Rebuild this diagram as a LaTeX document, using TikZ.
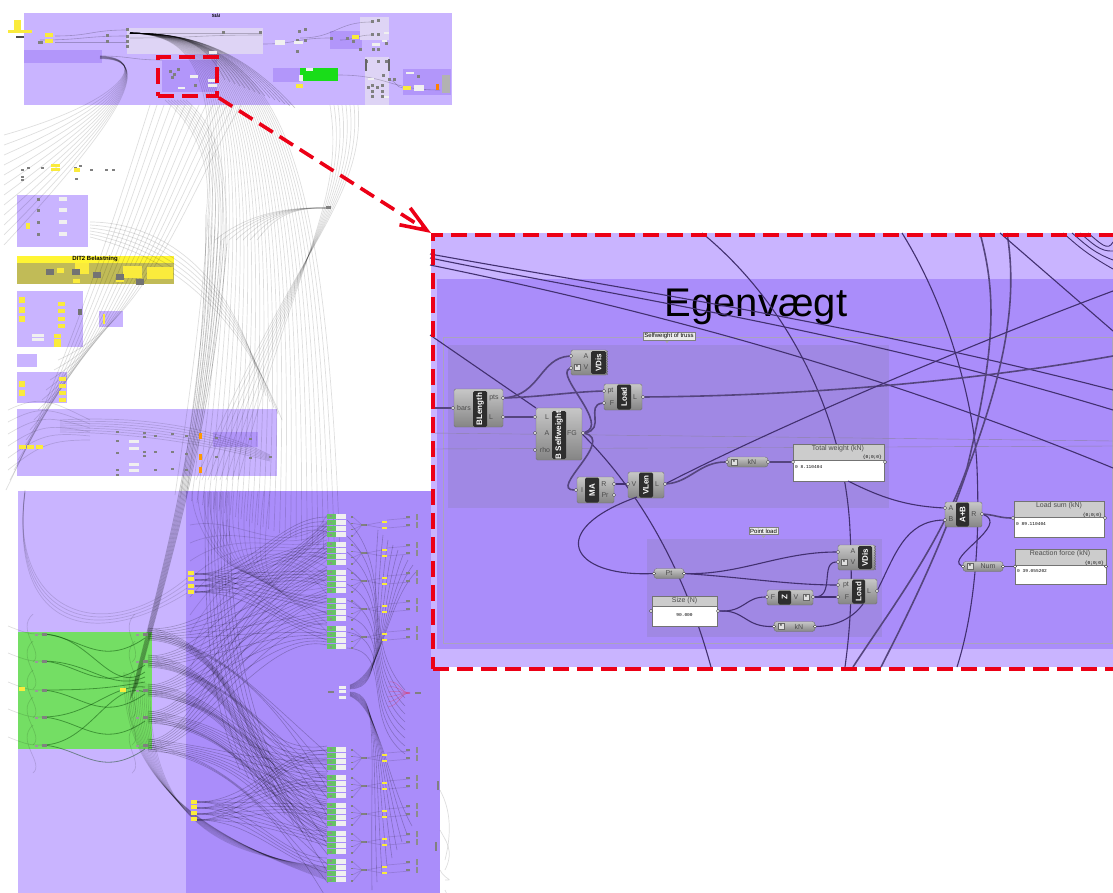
\documentclass[tikz,border=0pt]{standalone}
\usepackage{fontspec}
\setmainfont{Liberation Sans}
\setmonofont{Liberation Mono}
\usetikzlibrary{arrows.meta, decorations.pathmorphing}
\definecolor{clight}{RGB}{201,180,255}
\definecolor{cstrip}{RGB}{222,212,245}
\definecolor{cinner}{RGB}{170,141,250}
\definecolor{cgroup}{RGB}{160,136,228}
\definecolor{coverdark}{RGB}{178,150,250}
\definecolor{cwire}{RGB}{66,48,112}
\definecolor{cred}{RGB}{236,0,22}
\definecolor{cyell}{RGB}{250,235,60}
\definecolor{cgreen}{RGB}{116,222,100}

\begin{document}
\begin{tikzpicture}[x=1pt, y=-1pt, font=\fontsize{7}{8}\selectfont,
    comp/.style={draw=black!55, top color=black!22, bottom color=black!48, rounded corners=1.5pt, inner sep=0pt},
    pill/.style={comp, minimum height=10pt, rounded corners=3pt},
    bar/.style={fill=black!82, rounded corners=1.5pt, text=white, rotate=90, inner sep=0pt, font=\fontsize{8}{9}\bfseries\selectfont},
    port/.style={circle, draw=black!80, fill=white, inner sep=0pt, minimum size=3.2pt},
    plabel/.style={text=black!70, inner sep=0pt},
    staricon/.style={draw=black!60, fill=black!12, inner sep=0pt, minimum size=6pt, font=\fontsize{6}{6}\selectfont},
    panelhead/.style={draw=black!55, fill=black!20, inner sep=0pt},
    panelbody/.style={draw=black!55, fill=white, inner sep=0pt},
    panelmono/.style={inner sep=0pt, font=\fontsize{4.5}{5}\ttfamily\selectfont},
    note/.style={draw=black!50, fill=white!92!black, inner sep=1.2pt, font=\fontsize{6}{7}\selectfont},
    wire/.style={draw=cwire, line width=1.1pt},
    wirefat/.style={draw=cwire!90, line width=1.6pt},
    wirethin/.style={draw=cwire!60, line width=0.4pt},
    gwire/.style={draw=black, opacity=0.13, line width=0.7pt},
    dwire/.style={draw=black, opacity=0.22, line width=0.6pt},
    gstrand/.style={draw=green!25!black, opacity=0.45, line width=0.8pt},
    area/.style={inner sep=0pt, anchor=north west},
    tile/.style={fill=black!50, inner sep=0pt, minimum width=5pt, minimum height=3pt},
    ytile/.style={fill=cyell, inner sep=0pt},
    wtile/.style={fill=white!94!black, inner sep=0pt},
    reddash/.style={draw=cred, line width=3.6pt, dash pattern=on 16pt off 8pt}]

  \clip (0,0) rectangle (1113,893);

  % --- overview: groups ---
  \fill[clight] (24,13) rectangle (452,105);
  \fill[cstrip] (127,28) rectangle (263,54);
  \fill[coverdark] (24,50) rectangle (102,63);
  \fill[coverdark] (162,60) rectangle (217,92);
  \fill[coverdark] (273,68) rectangle (300,82);
  \fill[green!85!black!90!white] (300,68) rectangle (338,81);
  \fill[coverdark] (330,31) rectangle (362,49);
  \fill[cstrip] (360,17) rectangle (389,40);
  \fill[cstrip] (365,57) rectangle (389,105);
  \fill[coverdark] (403,69) rectangle (451,95);
  \fill[clight] (17,195) rectangle (88,247);
  \fill[yellow!80!white] (17,256) rectangle (174,263);
  \fill[olive!55!white] (17,263) rectangle (174,284);
  \fill[clight] (17,291) rectangle (83,347);
  \fill[clight] (99,311) rectangle (123,327);
  \fill[clight] (17,354) rectangle (37,367);
  \fill[clight] (17,372) rectangle (67,403);
  \fill[clight] (17,409) rectangle (277,476);
  \fill[coverdark] (213,432) rectangle (258,447);
  \fill[clight] (18,491) rectangle (186,893);
  \fill[cinner] (186,491) rectangle (440,893);
  \fill[cgreen] (18,632) rectangle (152,749);

  \node[font=\fontsize{4.5}{5}\bfseries\selectfont] (ovtitle) at (216,16) {Stål};
  \node[font=\fontsize{6}{7}\bfseries\selectfont] (dlttitle) at (95,259) {DIT2 Belastning};

  % --- overview: wires ---
  \foreach \i in {0,...,30}
    \draw[gwire] (130,33) .. controls ({215+2*\i},36) and ({235+3*\i},{95+\i}) .. ({175+5.5*\i},{495+2*\i});
  \foreach \i in {0,...,14}
    \draw[dwire] (130,33) .. controls (180,34) and ({205+2*\i},40) .. ({225+5*\i},{80+2*\i});
  \foreach \i in {0,...,11}
    \draw[gwire] (100,{56+\i/4}) .. controls (150,58) and ({128+\i},100) .. ({4},{135+10*\i});
  \foreach \i in {0,...,13}
    \draw[gwire] ({6+4*\i},{490-10*\i}) .. controls ({70+6*\i},{360-3*\i}) and ({120+5*\i},200) .. ({150+7*\i},{105});
  \foreach \i in {0,...,7}
    \draw[dwire, line width=0.8pt] ({130+\i},{700-2*\i}) .. controls ({172+\i},530) and ({205+\i},420) .. ({206+3*\i},{215+4*\i});
  \foreach \i in {0,...,7}
    \draw[gwire] ({206+3*\i},{215+4*\i}) .. controls ({212+2*\i},170) and ({200+3*\i},130) .. ({165+3*\i},100);
  \foreach \i in {0,...,6}
    \draw[gwire] ({215+7*\i},240) .. controls ({250+4*\i},{212+\i}) and (290,207) .. (328,208);
  \foreach \i in {0,...,7}
    \draw[gwire] ({330+4*\i},105) .. controls ({345+3*\i},200) and ({300-\i},250) .. ({238-6*\i},{480});
  \foreach \i in {0,...,5}
    \draw[gwire] (90,{222+3*\i}) .. controls (150,{222+6*\i}) and (230,{260+6*\i}) .. ({262+4*\i},{390+6*\i});
  \foreach \i in {0,...,3}
    \draw[gwire] (25,{490+\i}) .. controls (8,{610+9*\i}) and (100,{650-\i}) .. (187,{578+5*\i});
  \foreach \i in {0,...,6}
    \draw[gwire] (60,{420+2*\i}) .. controls (150,{415+3*\i}) and (220,{430+3*\i}) .. (270,{455+\i});
  \foreach \i in {0,...,5}
    \draw[gwire] (8,{410+12*\i}) .. controls (40,{395+10*\i}) and (50,{400+8*\i}) .. (90,{420+4*\i});
  % top group
  \foreach \x/\y/\u/\v in {40/40/127/36, 55/36/127/30, 55/42/127/42, 130/33/262/33, 130/38/262/35, 263/44/330/38, 300/38/372/22, 340/40/372/35, 389/80/403/88, 338/75/440/90, 100/56/162/60}
    \draw[dwire] (\x,\y) .. controls ({(\x+\u)/2},\y) and ({(\x+\u)/2},\v) .. (\u,\v);
  % green rows to the blocks
  \foreach \y [count=\r] in {634,661,690,717,745} {
    \draw[gstrand] (42,\y) .. controls (90,\y) and (110,{700-\r*4}) .. (145,{667+5*\r});
    \draw[gstrand] (42,\y) .. controls (80,{\y+2}) and (100,{\y+35}) .. (145,{\y+4});
    \draw[gwire] (8,{\y-8}) .. controls (28,\y) and (30,\y) .. (42,\y);
    \draw[gwire] (33,{\y-20}) .. controls (15,{\y-4}) and (45,{\y+18}) .. (33,{\y+28});
    \draw[gwire] (135,{\y-20}) .. controls (118,{\y-4}) and (145,{\y+18}) .. (132,{\y+28});
    \foreach \j in {0,...,6}
      \draw[dwire] (148,{\y-6+2*\j}) .. controls ({235+3*\j},{\y+5+\j}) and ({240+2*\j},{760+8*\j}) .. (327,{742+14*\j+\r*4});
    \foreach \j in {0,...,5}
      \draw[dwire] (148,{\y-5+2*\j}) .. controls (200,{\y-5+2*\j}) and ({230+7*\j},{600+\j*6}) .. (327,{520+\j*22+\r*3});
    \foreach \j in {0,...,2}
      \draw[dwire] (148,{\y+2*\j}) .. controls (215,{\y+10+2*\j}) and ({250+\j*8},{\y+50}) .. (328,{\y+120+\j*18});
  }
  % yellow clusters to the blocks
  \foreach \i in {0,...,3}
    \foreach \j in {0,...,4} {
      \draw[dwire] (195,{574+6*\i}) .. controls (250,{574+6*\i}) and (280,{517+27*\j}) .. (327,{517+27*\j+\i*5});
      \draw[dwire] (197,{802+6*\i}) .. controls (250,{802+6*\i}) and (280,{750+27*\j}) .. (327,{750+27*\j+\i*5});
    }
  \foreach \i in {0,...,13} {
    \draw[gwire] ({124+\i*2},{672+\i}) .. controls ({122+2*\i},{770+5*\i}) and ({185+4*\i},{830+2*\i}) .. (327,{880-\i});
    \draw[gwire] ({192+6*\i},491) .. controls ({190+5*\i},{530+6*\i}) and ({250+2*\i},{640-5*\i}) .. (327,{515+9*\i});
  }
  \foreach \i in {0,...,8} {
    \draw[dwire] ({205+\i*3},492) .. controls ({205+3*\i},600) and ({205+4*\i},{690+3*\i}) .. ({240+9*\i},{770+9*\i});
    \draw[gwire] (190,{525+18*\i}) .. controls (240,{515+6*\i}) and (280,{560-3*\i}) .. (327,{522+9*\i});
    \draw[dwire] (347,{520+16*\i}) .. controls (395,{570+10*\i}) and (360,{640+10*\i}) .. (405,{690+8*\i});
    \draw[dwire] (350,{692+\i/2}) .. controls (380,{693+2*\i}) and ({370+2*\i},{740+5*\i}) .. ({372+5*\i},{890-8*\i});
    \draw[dwire] (350,{689-\i/2}) .. controls (385,{688-2*\i}) and ({370+2*\i},{640-5*\i}) .. ({378+5*\i},{530+5*\i});
  }
  \foreach \i in {0,...,5}
    \draw[draw=red, opacity=0.3, line width=0.4pt] (410,693) .. controls (400,693) and (400,{680+5*\i}) .. (388,{682+5*\i});
  \foreach \i in {0,...,3}
    \draw[gwire] (440,{790+40*\i}) .. controls (445,{800+40*\i}) and (455,{820+30*\i}) .. (445,{860+10*\i});

  % --- overview: small parts top ---
  \node[ytile, minimum width=7pt, minimum height=8pt] (ya) at (17,24) {};
  \node[ytile, minimum width=7pt, minimum height=4pt] (yb) at (17,30) {};
  \node[ytile, minimum width=24pt, minimum height=3pt] (yc) at (20,32) {};
  \foreach \y in {35,41}
    \node[ytile, minimum width=8pt, minimum height=4pt] at (49,\y) {};
  \node[fill=black!70, minimum width=8pt, minimum height=2.5pt, inner sep=0pt] (ysw) at (20,37) {};
  \node[tile] (tila) at (40,43) {};
  \foreach \x/\y in {107/36,107/42,127/30,127/37,127/42,127/47,223/33,260/33,279/43,299/32,305/30,297/41,305/41,297/52,331/39,347/39,353/42,372/22,378/21,372/35,378/35,373/50,378/50,366/62,378/62,386/62,389/80,368/88,377/88,394/80,372/86,382/86,372/92,382/92,372/97,382/97,383/76,418/77,386/44,360/50,170/72,174/75,178/70,195/86,172/78}
    \node[tile, minimum width=3pt] at (\x,\y) {};
  \foreach \x/\y/\w/\h in {213/53/8/3,194/77/8/3,181/88/7/2,212/81/9/3,212/86/9/3,280/43/10/5,309/70/7/3,301/78/4/6,376/45/8/3,371/79/6/2,386/97/5/2,410/73/8/2,419/88/10/6,298/43/9/3,386/33/5/2,384/41/5/2}
    \node[wtile, minimum width=\w pt, minimum height=\h pt] at (\x,\y) {};
  \foreach \x/\y/\w/\h in {355/37/7/4,299/86/7/4,407/88/8/4}
    \node[ytile, minimum width=\w pt, minimum height=\h pt] at (\x,\y) {};
  \node[fill=black!30, minimum width=8pt, minimum height=18pt, inner sep=0pt] (grayp) at (446,84) {};
  \node[fill=orange, minimum width=3pt, minimum height=6pt, inner sep=0pt] (orgp) at (437,87) {};
  \node[fill=black!60, minimum width=2pt, minimum height=12pt, inner sep=0pt] (stripa) at (366,65) {};
  \node[fill=black!60, minimum width=2pt, minimum height=12pt, inner sep=0pt] (stripb) at (389,65) {};
  \foreach \x/\y in {28/168,42/168,55/169,75/168,76/179,80/166,91/170,106/170,113/170,22/170,22/177,22/180}
    \node[tile, minimum width=3pt, minimum height=2pt] at (\x,\y) {};
  \node[ytile, minimum width=9pt, minimum height=3pt] (ysa) at (55,166) {};
  \node[ytile, minimum width=9pt, minimum height=3pt] (ysb) at (55,170) {};
  \node[ytile, minimum width=6pt, minimum height=4pt] (ysc) at (77,170) {};
  \node[tile] (tilb) at (328,208) {};

  % --- overview: small groups left ---
  \foreach \y in {199,210,222,234} {
    \node[tile, minimum width=3pt] at (38,{\y+1}) {};
    \node[wtile, minimum width=8pt, minimum height=4pt] at (63,\y) {};
  }
  \node[ytile, minimum width=4pt, minimum height=6pt] (yleft) at (28,226) {};
  \foreach \x/\y/\w/\h in {50/272/6/6,60/271/7/5,76/281/7/4,82/269/14/11,97/275/6/6,120/280/8/4,132/272/19/12,160/273/26/11}
    \node[fill=cyell, minimum width=\w pt, minimum height=\h pt, inner sep=0pt] at (\x,\y) {};
  \foreach \x/\y in {50/272,76/272,97/275,120/277,140/282}
    \node[fill=black!55, minimum width=8pt, minimum height=6pt, inner sep=0pt] at (\x,\y) {};
  \foreach \y in {300,310,319}
    \node[ytile, minimum width=6pt, minimum height=6pt] at (22,\y) {};
  \foreach \y in {304,311,319,326,336,341,345} {
    \node[ytile, minimum width=7pt, minimum height=4pt] at ({\y>330 ? 57 : 61},\y) {};
  }
  \node[wtile, minimum width=12pt, minimum height=3pt] (wa) at (38,335) {};
  \node[wtile, minimum width=12pt, minimum height=3pt] (wb) at (38,339) {};
  \node[fill=black!55, minimum width=4pt, minimum height=6pt, inner sep=0pt] (ga) at (80,312) {};
  \node[ytile, minimum width=2pt, minimum height=10pt] (yg) at (104,319) {};
  \foreach \y in {384,393}
    \node[ytile, minimum width=6pt, minimum height=6pt] at (22,\y) {};
  \foreach \y in {379,386,393,400}
    \node[ytile, minimum width=7pt, minimum height=4pt] at (62,\y) {};
  \foreach \x in {22,30,39}
    \node[ytile, minimum width=7pt, minimum height=4pt] at (\x,447) {};
  \foreach \y in {441,448,464,470} {
    \node[wtile, minimum width=10pt, minimum height=3pt] at (134,\y) {};
  }
  \foreach \x/\y in {144/433,144/437,144/452,144/456,172/434,172/452,172/469,117/432,117/441,117/453,117/470,117/475,155/436,155/452,155/470,186/436,186/454,186/470,216/438,216/457,250/439,250/458,270/457}
    \node[tile, minimum width=3pt, minimum height=2.5pt] at (\x,\y) {};
  \foreach \y in {436,457,470}
    \node[fill=orange!80!yellow, minimum width=3pt, minimum height=6pt, inner sep=0pt] at (200,\y) {};

  % --- overview: blocks bottom ---
  \foreach \y in {513,541,569,597,625,746,774,802,830,858}
    \foreach \j in {0,1,2,3} {
      \node[fill=green!60!black!60!white, minimum width=9pt, minimum height=5pt, inner sep=0pt] at (331,{\y+3+\j*6.3}) {};
      \node[wtile, minimum width=10pt, minimum height=5pt] at (341,{\y+3+\j*6.3}) {};
      \node[fill=black!45, minimum width=1.5pt, minimum height=1.5pt, inner sep=0pt] at (331,{\y+3+\j*6.3}) {};
      \node[fill=black!50, minimum width=2pt, minimum height=1.5pt, inner sep=0pt] at (352,{\y+4+\j*6.3}) {};
      \draw[gwire] (353,{\y+4+\j*6.3}) -- (362,{\y+12});
    }
  \foreach \y in {513,541,569,597,625,746,774,802,830,858} {
    \node[tile, minimum width=6pt, minimum height=2pt] at (364,{\y+12}) {};
    \node[ytile, minimum width=5pt, minimum height=2pt] at (384,{\y+9}) {};
    \node[ytile, minimum width=5pt, minimum height=2pt] at (384,{\y+15}) {};
    \draw[gwire] (366,{\y+12}) -- (382,{\y+9}) (366,{\y+12}) -- (382,{\y+15});
    \foreach \s in {9,17} {
      \draw[gwire] (387,{\y+\s-2}) -- (410,{\y+\s-4});
      \node[tile, minimum width=4pt, minimum height=1.5pt] at (408,{\y+\s-5}) {};
      \node[fill=black!45, minimum width=2pt, minimum height=6pt, inner sep=0pt] at (417,{\y+\s-5}) {};
    }
  }
  \foreach \y in {573,579,586,592}
    \node[ytile, minimum width=6pt, minimum height=4pt] at (191,\y) {};
  \foreach \y in {802,807,813,819}
    \node[ytile, minimum width=6pt, minimum height=4pt] at (194,\y) {};
  \foreach \y in {634,661,690,717,745} {
    \node[tile, minimum width=5pt, minimum height=3pt] at (44,\y) {};
    \node[tile, minimum width=5pt, minimum height=3pt] at (145,\y) {};
    \node[fill=black!40, minimum width=3pt, minimum height=1.5pt, inner sep=0pt] at (36,{\y+1}) {};
    \node[fill=black!40, minimum width=3pt, minimum height=1.5pt, inner sep=0pt] at (137,{\y+1}) {};
  }
  \node[ytile, minimum width=6pt, minimum height=4pt] (ygreena) at (22,689) {};
  \node[ytile, minimum width=6pt, minimum height=4pt] (ygreenb) at (123,690) {};
  \foreach \y in {687,691,697}
    \node[wtile, minimum width=7pt, minimum height=3pt] at (342,\y) {};
  \node[tile, minimum width=6pt, minimum height=2pt] (tilc) at (331,692) {};
  \node[tile, minimum width=6pt, minimum height=2pt] (tild) at (418,693) {};
  \node[fill=black!50, minimum width=2pt, minimum height=9pt, inner sep=0pt] (stripc) at (438,785) {};
  \node[fill=black!50, minimum width=2pt, minimum height=9pt, inner sep=0pt] (stripd) at (436,846) {};

  % --- zoomed panel ---
  \fill[clight] (431,233) rectangle (1113,667);
  \fill[cinner] (437,279) rectangle (1113,649);
  \draw[draw=cwire!45, line width=0.4pt] (443,337) rectangle (1112,643);
  \node[area, fill=cgroup, minimum width=441pt, minimum height=163pt] (gself) at (448,345) {};
  \node[area, fill=cgroup, minimum width=235pt, minimum height=98pt] (gpoint) at (647,539) {};
  \node[font=\fontsize{40}{42}\selectfont, text=black] (egen) at (756,307) {Egenvægt};
  \fill[black!35] (665,340.6) -- (669,340.6) -- (667,343.4) -- cycle;
  \fill[black!35] (761.5,535.6) -- (765.5,535.6) -- (763.5,538) -- cycle;

  % --- wires behind the parts ---
  \coordinate (lonea) at (430,254);
  \coordinate (loneb) at (1113,390);
  \coordinate (ltwoa) at (430,258);
  \coordinate (ltwob) at (1113,410);
  \coordinate (lthra) at (430,265);
  \coordinate (lthrb) at (1113,468);
  \coordinate (larca) at (702,233);
  \coordinate (larcb) at (845,667);
  \coordinate (lbara) at (430,335);
  \coordinate (lbarb) at (711,667);
  \coordinate (lina) at (431,408);
  \coordinate (lreac) at (1113,291);
  \coordinate (lload) at (1113,356);
  \coordinate (lmida) at (431,433);
  \coordinate (lmidb) at (1113,441);
  \coordinate (lmidc) at (431,449);
  \coordinate (lmidd) at (1113,446);
  \coordinate (ltopa) at (902,233);
  \coordinate (ltopb) at (957,667);
  \coordinate (ltopc) at (980,233);
  \coordinate (ltopd) at (853,667);
  \coordinate (ltope) at (1007,233);
  \coordinate (ltopf) at (881,667);
  \coordinate (ltopg) at (1000,233);
  \coordinate (ltoph) at (1113,331);
  \draw[wirethin] (lmida) -- (lmidb);
  \draw[wirethin] (lmidc) -- (lmidd);
  \draw[wire] (lonea) .. controls (600,285) and (850,322) .. (loneb);
  \draw[wire] (ltwoa) .. controls (620,297) and (850,330) .. (ltwob);
  \draw[wire] (lthra) .. controls (650,310) and (880,372) .. (lthrb);
  \draw[wire] (larca) .. controls (790,305) and (845,420) .. (850,530) .. controls (853,590) and (850,630) .. (larcb);
  \draw[wire] (lbara) -- (536,408);
  \draw[wire] (580,432) .. controls (650,500) and (690,590) .. (lbarb);
  \draw[wire] (ltopa) .. controls (950,310) and (975,410) .. (977,468) .. controls (980,540) and (975,610) .. (ltopb);
  \draw[wirefat] (ltopc) .. controls (995,290) and (998,340) .. (967,468) .. controls (940,545) and (890,610) .. (ltopd);
  \draw[wirefat] (ltope) .. controls (1018,300) and (1005,370) .. (968,468) .. controls (940,550) and (910,610) .. (ltopf);
  \draw[wire] (ltopg) -- (ltoph);
  \foreach \s [count=\k] in {1063,1072,1080,1088}
    \draw[wire, line width=0.9pt] (\s,233) .. controls ({\s+12},243) and ({\s+20},252) .. (1113,{278-\k*9});

  % --- parts ---
  \node[note] (nself) at (669,336) {Selfweight of truss};
  \node[note] (npoint) at (763.5,531) {Point load};
  \node[comp, minimum width=49pt, minimum height=38pt] (blen) at (478.5,408) {};
  \node[bar, minimum width=36pt, minimum height=14pt] (blenbar) at (480,409) {BLength};
  \node[comp, minimum width=36pt, minimum height=25pt] (vdis) at (589,362.5) {};
  \node[bar, minimum width=23pt, minimum height=15pt] (vdisbar) at (598.5,362.5) {VDis};
  \node[comp, minimum width=38pt, minimum height=26pt] (loada) at (623,397) {};
  \node[bar, minimum width=25pt, minimum height=14pt] (loadabar) at (624,397) {Load};
  \node[comp, minimum width=46pt, minimum height=52pt] (bself) at (559,434) {};
  \node[bar, minimum width=48pt, minimum height=14pt] (bselfbar) at (559,435) {B Selfweight};
  \node[comp, minimum width=37pt, minimum height=26pt] (ma) at (595.5,490) {};
  \node[bar, minimum width=25pt, minimum height=14pt] (mabar) at (592,490) {MA};
  \node[comp, minimum width=36pt, minimum height=26pt] (vlen) at (646,485) {};
  \node[bar, minimum width=25pt, minimum height=14pt] (vlenbar) at (646,485) {VLen};
  \node[comp, minimum width=37pt, minimum height=25pt] (aplusb) at (963.5,514.5) {};
  \node[bar, minimum width=24pt, minimum height=13pt] (aplusbbar) at (962.5,514.5) {A+B};
  \node[comp, minimum width=37pt, minimum height=25pt] (vdisb) at (856.5,557.5) {};
  \node[bar, minimum width=23pt, minimum height=14pt] (vdisbbar) at (865,557.5) {VDis};
  \node[comp, minimum width=39pt, minimum height=25pt] (loadb) at (857.5,591.5) {};
  \node[bar, minimum width=24pt, minimum height=13pt] (loadbbar) at (858.5,591.5) {Load};
  \node[comp, minimum width=46pt, minimum height=15pt] (zvec) at (790,597.5) {};
  \node[bar, minimum width=14pt, minimum height=13pt] (zvecbar) at (784.5,597.5) {Z};
  \node[pill, minimum width=41pt] (kna) at (747.5,462) {};
  \node[pill, minimum width=41pt] (knb) at (794.5,626.5) {};
  \node[pill, minimum width=30pt] (ptp) at (669,573.5) {};
  \node[pill, minimum width=40pt] (num) at (983,566.5) {};
  \draw[decorate, decoration={zigzag, segment length=2.5pt, amplitude=0.8pt}, draw=black!60] (607,351) -- (607,375);
  \draw[decorate, decoration={zigzag, segment length=2.5pt, amplitude=0.8pt}, draw=black!60] (875,546) -- (875,570);

  \node[plabel] (lbars) at (464,408) {bars};
  \node[plabel] (lpts) at (494,398) {pts};
  \node[plabel] (ll) at (491,417) {L};
  \node[plabel] (lva) at (586,356) {A};
  \node[plabel] (lvv) at (586,367) {V};
  \node[staricon] (sva) at (577,367) {*};
  \node[plabel] (lpt) at (610.5,391) {pt};
  \node[plabel] (lf) at (612,403) {F};
  \node[plabel] (lll) at (635,397) {L};
  \node[plabel] (lsl) at (547,417) {L};
  \node[plabel] (lsa) at (547,433) {A};
  \node[plabel] (lsr) at (545,450) {rho};
  \node[plabel] (lsf) at (572,433) {FG};
  \node[plabel] (lmi) at (582,490) {I};
  \node[plabel] (lmr) at (604,484) {R};
  \node[plabel] (lmp) at (605,495) {Pr};
  \node[plabel] (lvl) at (634,484) {V};
  \node[plabel] (lvr) at (657,484) {L};
  \node[plabel] (laa) at (951,508) {A};
  \node[plabel] (lab) at (951,519) {B};
  \node[plabel] (lar) at (974,514) {R};
  \node[plabel] (lva2) at (853,551) {A};
  \node[plabel] (lvv2) at (853,562) {V};
  \node[staricon] (svb) at (844,562) {*};
  \node[plabel] (lpt2) at (846,585) {pt};
  \node[plabel] (lf2) at (847,597) {F};
  \node[plabel] (ll2) at (869,591) {L};
  \node[plabel] (lzf) at (773,597) {F};
  \node[plabel] (lzv) at (796,597) {V};
  \node[staricon] (szi) at (806,597) {*};
  \node[staricon] (skna) at (734,462) {*};
  \node[plabel] (tkna) at (752,462) {kN};
  \node[staricon] (sknb) at (781,626.5) {*};
  \node[plabel] (tknb) at (799,626.5) {kN};
  \node[plabel] (tpt) at (669,573.5) {Pt};
  \node[staricon] (snum) at (970,566.5) {*};
  \node[plabel] (tnum) at (988,566.5) {Num};

  % --- panels ---
  \node[area, panelhead, minimum width=91pt, minimum height=16pt] (twh) at (793,444) {};
  \node[area, panelbody, minimum width=91pt, minimum height=21pt] (twb) at (793,460) {};
  \node[plabel] (twt) at (838,448.5) {Total weight (kN)};
  \node[panelmono, anchor=east] (twi) at (882,457) {\{0;0;0\}};
  \node[panelmono, anchor=west] (twv) at (795,467) {0 8.110404};
  \node[area, panelhead, minimum width=90pt, minimum height=16pt] (lsh) at (1014,501) {};
  \node[area, panelbody, minimum width=90pt, minimum height=20pt] (lsb) at (1014,517) {};
  \node[plabel] (lst) at (1059,505.5) {Load sum (kN)};
  \node[panelmono, anchor=east] (lsi) at (1102,515) {\{0;0;0\}};
  \node[panelmono, anchor=west] (lsv) at (1016,524) {0 89.110404};
  \node[area, panelhead, minimum width=91pt, minimum height=16pt] (rfh) at (1015,549) {};
  \node[area, panelbody, minimum width=91pt, minimum height=19pt] (rfb) at (1015,565) {};
  \node[plabel] (rft) at (1060,553.5) {Reaction force (kN)};
  \node[panelmono, anchor=east] (rfi) at (1104,563) {\{0;0;0\}};
  \node[panelmono, anchor=west] (rfv) at (1017,571.5) {0 39.055202};
  \node[area, panelhead, minimum width=65pt, minimum height=10pt] (szh) at (652,596) {};
  \node[area, panelbody, minimum width=65pt, minimum height=20pt] (szb) at (652,606) {};
  \node[plabel] (szt) at (684.5,600.5) {Size (N)};
  \node[panelmono] (szv) at (684.5,615.5) {90.000};

  % --- ports ---
  \foreach \n/\x/\y in {pbars/453/408, ppts/503/398, pl/503/417, pva/571/356, pvv/571/368, pla/604/391, plf/604/403, pll/643/397, psl/535/417, psa/535/433, psr/535/450, psf/583/433, pmi/576/490, pmr/614/484, pmp/614/495, pvi/628/484, pvo/665/484, pki/727/462, pko/768/462, pti/793/462, pto/885/462, paa/945/508, pab/945/520, pao/982/514, plsi/1013/518, plso/1105/518, pni/963/566.5, pno/1003/566.5, prfi/1015/566.5, prfo/1106/566.5, ppi/654/573.5, ppo/684/573.5, psi/651/611, pso/718/611, pzi/767/597, pzo/813/597, pkbi/774/626.5, pkbo/815/626.5, pvba/838/552, pvbv/838/562, plbp/838/585, plbf/838/597, plbo/877/591}
    \node[port] (\n) at (\x,\y) {};

  % --- wires ---
  \draw[wirefat] (lina) -- (pbars);
  \draw[wirefat] (ppts) .. controls (540,395) and (540,358) .. (pva);
  \draw[wirefat] (ppts) .. controls (540,397) and (570,392) .. (pla);
  \draw[wirefat] (pl) -- (psl);
  \draw[wirefat] (psf) .. controls (606,430) and (585,405) .. (plf);
  \draw[wirefat] (psf) .. controls (610,425) and (555,375) .. (pvv);
  \draw[wirefat] (psf) .. controls (615,440) and (548,490) .. (pmi);
  \draw[wirefat] (pll) .. controls (780,396) and (950,385) .. (lload);
  \draw[wire] (pmr) -- (pvi);
  \draw[wirefat] (pvo) .. controls (690,482) and (700,462) .. (pki);
  \draw[wire] (pvo) .. controls (760,435) and (950,352) .. (lreac);
  \draw[wirefat] (pko) -- (pti);
  \draw[wire] (848,481) .. controls (880,497) and (905,506) .. (paa);
  \draw[wire] (ppi) .. controls (570,577) and (545,530) .. (637,497);
  \draw[wire] (ppo) .. controls (740,575) and (780,552) .. (pvba);
  \draw[wire] (ppo) .. controls (740,577) and (790,585) .. (plbp);
  \draw[wire] (pso) .. controls (745,612) and (745,597) .. (pzi);
  \draw[wire] (pso) .. controls (745,610) and (745,627) .. (pkbi);
  \draw[wire] (pzo) .. controls (835,597) and (820,562) .. (pvbv);
  \draw[wire] (pzo) -- (plbf);
  \draw[wire] (pkbo) .. controls (840,626) and (855,615) .. (863,604);
  \draw[wire] (plbo) .. controls (895,555) and (905,521) .. (pab);
  \draw[wirefat] (pao) .. controls (995,515) and (1000,518) .. (plsi);
  \draw[wire] (pao) .. controls (1010,525) and (945,558) .. (pni);
  \draw[wirefat] (pno) -- (prfi);

  % --- red marks ---
  \node[reddash, minimum width=59pt, minimum height=39pt, inner sep=0pt] (srcbox) at (187.5,76.5) {};
  \node[reddash, minimum width=700pt, minimum height=434pt, inner sep=0pt, anchor=north west] (dstbox) at (431,233) {};
  \draw[reddash, -{Straight Barb[length=26pt, width=20pt]}] (srcbox.south east) -- (dstbox.north west);
\end{tikzpicture}
\end{document}
